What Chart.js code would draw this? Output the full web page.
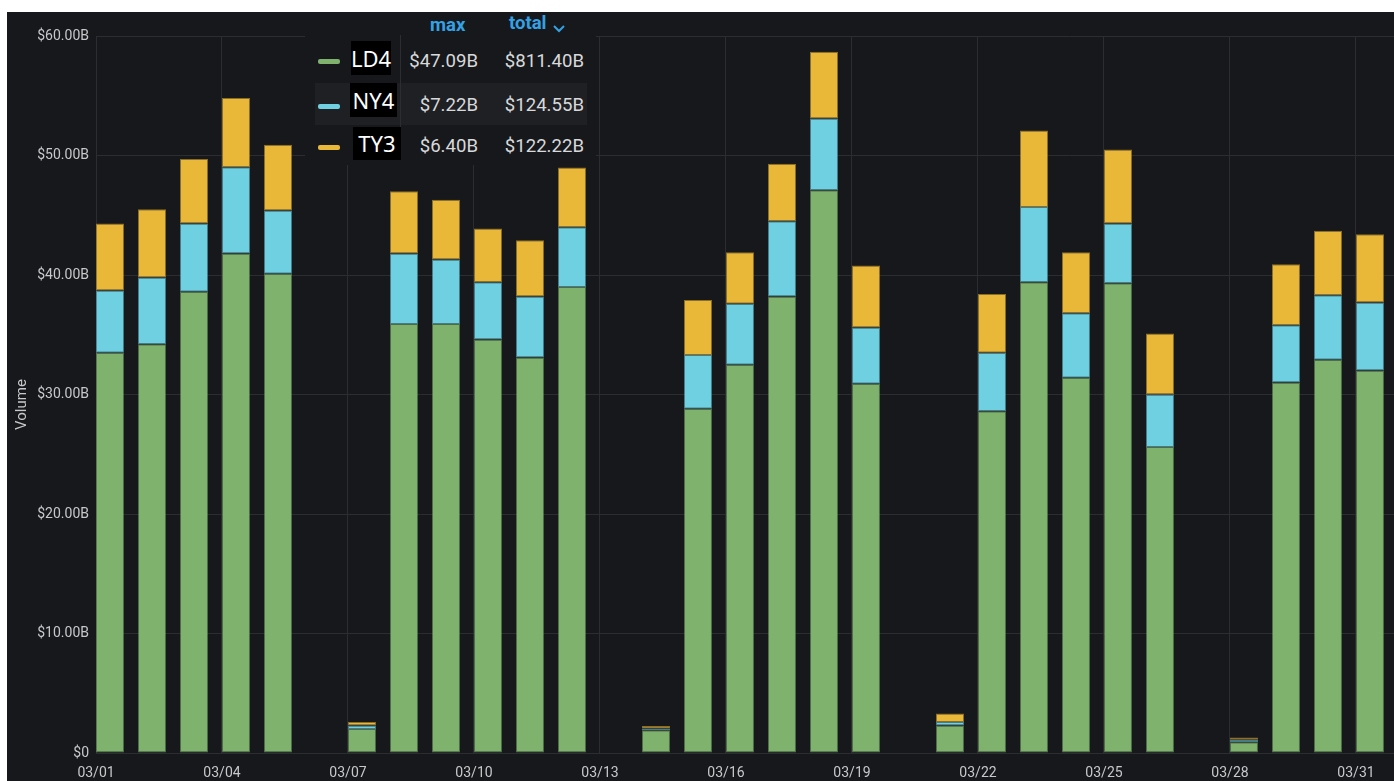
<!DOCTYPE html>
<html>
<head>
<meta charset="utf-8">
<script src="https://cdn.jsdelivr.net/npm/chart.js@4.4.1/dist/chart.umd.min.js"></script>
<style>
    body {
        margin: 0;
        background: #ffffff;
        font-family: Roboto, sans-serif;
    }
    #panel {
        position: absolute;
        left: 7px;
        top: 12px;
        width: 1387px;
        height: 769px;
        background: #17181c;
        overflow: hidden;
    }
    #legend {
        position: absolute;
        left: 298px;
        top: 0;
        width: 291px;
        height: 153px;
        background: #17181c;
    }
    #legend div {
        position: absolute;
    }
    .hdr {
        color: #33a2e5;
        font-weight: bold;
        font-size: 18.5px;
        line-height: 22px;
        top: 0;
    }
    .hover-row {
        left: 10px;
        top: 71px;
        width: 272px;
        height: 42px;
        background: #1f2024;
    }
    .sep {
        left: 95px;
        top: 23px;
        width: 1px;
        height: 125px;
        background: #2c2d31;
    }
    .swatch {
        left: 13px;
        width: 22px;
        height: 5px;
        border-radius: 2px;
    }
    .name {
        background: #000000;
        color: #ffffff;
        font-family: "Noto Sans", sans-serif;
        font-size: 22px;
        text-align: center;
    }
    .val {
        color: #d8d9da;
        font-size: 18.6px;
        line-height: 22px;
        text-align: right;
        width: 100px;
    }
</style>
</head>
<body>
<div id="panel">
    <canvas id="volumeChart"></canvas>
    <div id="legend"></div>
</div>
<script>
const days = [1, 2, 3, 4, 5, 6, 7, 8, 9, 10, 11, 12, 13, 14, 15, 16, 17, 18, 19, 20, 21, 22, 23, 24, 25, 26, 27, 28, 29, 30, 31];
const tickDays = [1, 4, 7, 10, 13, 16, 19, 22, 25, 28, 31];
const tickLabels = ['03/01', '03/04', '03/07', '03/10', '03/13', '03/16', '03/19', '03/22', '03/25', '03/28', '03/31'];

// volume per day, in billions of dollars
const ld4 = [33.5, 34.2, 38.6, 41.8, 40.1, null, 2.0, 35.9, 35.9, 34.6, 33.1, 39.0, null, 1.9, 28.8, 32.5, 38.2, 47.09, 30.9, null, 2.3, 28.6, 39.4, 31.4, 39.3, 25.6, null, 0.9, 31.0, 32.9, 32.0];
const ny4 = [5.2, 5.6, 5.7, 7.22, 5.3, null, 0.3, 5.9, 5.4, 4.8, 5.1, 5.0, null, 0.15, 4.5, 5.1, 6.3, 6.0, 4.7, null, 0.3, 4.9, 6.3, 5.4, 5.0, 4.4, null, 0.2, 4.8, 5.4, 5.7];
const ty3 = [5.6, 5.7, 5.4, 5.8, 5.5, null, 0.3, 5.2, 5.0, 4.5, 4.7, 5.0, null, 0.2, 4.6, 4.3, 4.8, 5.6, 5.2, null, 0.7, 4.9, 6.4, 5.1, 6.2, 5.1, null, 0.2, 5.1, 5.4, 5.7];

const seriesNames = ['LD4', 'NY4', 'TY3'];
const seriesColors = ['#7eb26d', '#6ed0e0', '#eab839'];
const seriesBorders = ['rgba(126, 178, 109, 0.55)', 'rgba(110, 208, 224, 0.55)', 'rgba(234, 184, 57, 0.55)'];
const seriesMax = ['$47.09B', '$7.22B', '$6.40B'];
const seriesTotal = ['$811.40B', '$124.55B', '$122.22B'];

const yTicks = [0, 10, 20, 30, 40, 50, 60];

// grafana draws each bar from the start of its day
const barShare = 2 / 3;

const makeDataset = (name, values, idx) => {
    return {
        label: name,
        data: days.map((d, i) => ({x: d + barShare / 2, y: values[i]})),
        backgroundColor: seriesColors[idx],
        borderColor: seriesBorders[idx],
        borderWidth: 1,
        borderSkipped: false,
        barPercentage: barShare,
        categoryPercentage: 1,
    };
};

const buildLegend = () => {
    const legend = document.getElementById('legend');
    let html = '';
    html += '<div class="hover-row"></div>';
    html += '<div class="sep"></div>';
    html += '<div class="hdr" style="left:125px;top:2px">max</div>';
    html += '<div class="hdr" style="left:204px;top:0px">total</div>';
    html += '<div style="left:248px;top:6px"><svg width="12" height="8"><polyline points="1,1 6,6 11,1" fill="none" stroke="#33a2e5" stroke-width="2"/></svg></div>';

    const rows = [
        {top: 29, swatch: 47, box: [46, 29, 40, 34]},
        {top: 73, swatch: 92, box: [45, 71, 47, 34]},
        {top: 114, swatch: 133, box: [48, 115, 48, 33]},
    ];

    rows.forEach((r, i) => {
        html += `<div class="swatch" style="top:${r.swatch}px;background:${seriesColors[i]}"></div>`;
        html += `<div class="name" style="left:${r.box[0]}px;top:${r.box[1]}px;width:${r.box[2]}px;height:${r.box[3]}px;line-height:${r.box[3]}px">${seriesNames[i]}</div>`;
        html += `<div class="val" style="left:73px;top:${r.top + 9}px">${seriesMax[i]}</div>`;
        html += `<div class="val" style="left:179px;top:${r.top + 9}px">${seriesTotal[i]}</div>`;
    });

    legend.innerHTML = html;
};

const axisTitle = {
    id: 'axisTitle',
    afterDraw(chart) {
        const {ctx, chartArea} = chart;
        ctx.save();
        ctx.translate(15, (chartArea.top + chartArea.bottom) / 2 + 10);
        ctx.rotate(-Math.PI / 2);
        ctx.fillStyle = '#c7c8ca';
        ctx.font = '15px Roboto';
        ctx.textAlign = 'center';
        ctx.textBaseline = 'middle';
        ctx.fillText('Volume', 0, 0);
        ctx.restore();
    },
};

const loadChart = (ctx) => {
    new Chart(ctx, {
        type: 'bar',
        data: {
            datasets: [
                makeDataset(seriesNames[0], ld4, 0),
                makeDataset(seriesNames[1], ny4, 1),
                makeDataset(seriesNames[2], ty3, 2),
            ],
        },
        options: {
            responsive: true,
            maintainAspectRatio: false,
            animation: false,
            layout: {
                padding: {top: 24, right: 0, bottom: 0, left: 0},
            },
            plugins: {
                legend: {
                    display: false,
                },
                tooltip: {
                    enabled: false,
                },
            },
            scales: {
                x: {
                    type: 'linear',
                    stacked: true,
                    offset: false,
                    min: 1,
                    max: 31.905,
                    afterBuildTicks: (scale) => {
                        scale.ticks = tickDays.map(v => ({value: v}));
                    },
                    afterFit: (scale) => {
                        scale.height = 28;
                    },
                    grid: {
                        color: '#2c2d31',
                        drawTicks: false,
                        offset: false,
                    },
                    border: {
                        display: false,
                    },
                    ticks: {
                        padding: 12,
                        color: '#c7c8ca',
                        maxRotation: 0,
                        autoSkip: false,
                        font: {family: 'Roboto', size: 14},
                        callback: (value) => tickLabels[tickDays.indexOf(value)],
                    },
                },
                y: {
                    stacked: true,
                    min: 0,
                    max: 60,
                    afterBuildTicks: (scale) => {
                        scale.ticks = yTicks.map(v => ({value: v}));
                    },
                    afterFit: (scale) => {
                        scale.width = 89;
                    },
                    grid: {
                        color: '#2c2d31',
                        drawTicks: false,
                    },
                    border: {
                        display: false,
                    },
                    ticks: {
                        padding: 7,
                        color: '#c7c8ca',
                        font: {family: 'Roboto', size: 14},
                        callback: (value) => value === 0 ? '$0' : `$${value.toFixed(2)}B`,
                    },
                },
            },
        },
        plugins: [axisTitle],
    });
};

(function () {
    const ctx = document.getElementById('volumeChart').getContext('2d');

    loadChart(ctx);
    buildLegend();
})();
</script>
</body>
</html>
